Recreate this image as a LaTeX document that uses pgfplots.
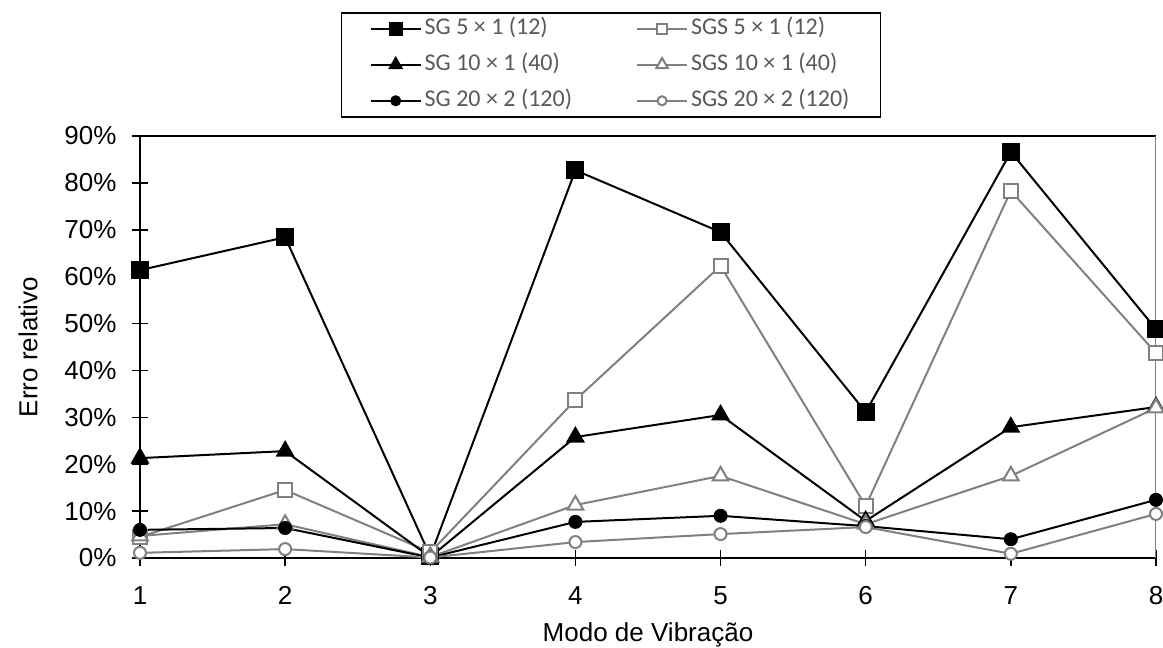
\documentclass[border=0pt]{standalone}
\usepackage{fontspec}
\setmainfont{Liberation Sans}
\newfontfamily\legendfont{Carlito}
\usepackage{pgfplots}
\pgfplotsset{compat=1.18}
\definecolor{sgsgray}{HTML}{808080}
\definecolor{legtext}{HTML}{595959}
\begin{document}
\begin{tikzpicture}
\useasboundingbox (-140pt,-90pt) rectangle (1023pt,558pt);
\begin{axis}[
  at={(0,0)}, anchor=south west,
  scale only axis, width=1016pt, height=422pt,
  xmin=1, xmax=8, ymin=0, ymax=90,
  clip=false,
  axis x line*=bottom, axis y line*=left,
  axis line style={black, line width=2pt, -},
  xtick={1,2,3,4,5,6,7,8},
  ytick={0,10,20,30,40,50,60,70,80,90},
  yticklabel={\pgfmathprintnumber{\tick}\%},
  /pgf/number format/assume math mode=true,
  xtick style={draw=black, line width=1.5pt},
  ytick style={draw=black, line width=1.5pt},
  tick align=center,
  major tick length=16pt,
  tick label style={font=\fontsize{26}{30}\selectfont},
  yticklabel style={anchor=east, xshift=-12pt},
  xticklabel style={anchor=north, yshift=-17pt},
  every axis x label/.style={at={(axis description cs:0.5,-0.1825)}, anchor=center, font=\fontsize{26}{30}\selectfont},
  every axis y label/.style={at={(axis description cs:-0.1102,0.5)}, rotate=90, anchor=center, font=\fontsize{26}{30}\selectfont},
  xlabel={Modo de Vibração},
  ylabel={Erro relativo},
  legend columns=2,
  legend cell align=left,
  legend style={at={(axis description cs:0.1978,1.2938)}, anchor=north west,
    draw=black, line width=1.5pt, fill=white,
    font=\legendfont\fontsize{24}{28}\selectfont, text=legtext,
    inner xsep=28pt, inner ysep=2pt, row sep=8pt,
    nodes={inner xsep=3pt, inner ysep=3pt, text height=17pt, text depth=5pt},
    /tikz/column 2/.style={column sep=61pt}},
  legend image code/.code={\draw[mark repeat=2,mark phase=2] plot coordinates {(0pt,0pt) (25pt,0pt) (50pt,0pt)};},
  legend image post style={every mark/.append style={scale=0.75}},
]
\draw[black,line width=1.5pt] (rel axis cs:0,1) -- (rel axis cs:1,1);
\draw[sgsgray,line width=1pt] (rel axis cs:1,0) -- (rel axis cs:1,1);

\addplot[black, line width=2pt, mark=square*, mark size=8pt, mark options={fill=black}]
 coordinates {(1,61.4) (2,68.4) (3,0.4) (4,82.7) (5,69.5) (6,31.1) (7,86.6) (8,48.8)};
\addlegendentry{SG 5 × 1 (12)}
\addplot[sgsgray, line width=2pt, mark=square*, mark size=7pt, mark options={fill=white, draw=sgsgray}]
 coordinates {(1,4.5) (2,14.5) (3,1.2) (4,33.7) (5,62.3) (6,11.1) (7,78.3) (8,43.7)};
\addlegendentry{SGS 5 × 1 (12)}
\addplot[black, line width=2pt, mark=triangle*, mark size=9pt, mark options={fill=black}]
 coordinates {(1,21.3) (2,22.8) (3,0.2) (4,25.8) (5,30.5) (6,7.9) (7,27.9) (8,32.2)};
\addlegendentry{SG 10 × 1 (40)}
\addplot[sgsgray, line width=2pt, mark=triangle*, mark size=9pt, mark options={fill=white, draw=sgsgray}]
 coordinates {(1,4.7) (2,7.2) (3,0.2) (4,11.3) (5,17.5) (6,7.2) (7,17.5) (8,32.0)};
\addlegendentry{SGS 10 × 1 (40)}
\addplot[black, line width=2pt, mark=*, mark size=6pt, mark options={fill=black}]
 coordinates {(1,6.0) (2,6.4) (3,0.1) (4,7.7) (5,9.0) (6,6.8) (7,4.0) (8,12.4)};
\addlegendentry{SG 20 × 2 (120)}
\addplot[sgsgray, line width=2pt, mark=*, mark size=6pt, mark options={fill=white, draw=sgsgray}]
 coordinates {(1,1.1) (2,1.9) (3,0.1) (4,3.4) (5,5.1) (6,6.6) (7,0.9) (8,9.4)};
\addlegendentry{SGS 20 × 2 (120)}
\end{axis}
\end{tikzpicture}
\end{document}
